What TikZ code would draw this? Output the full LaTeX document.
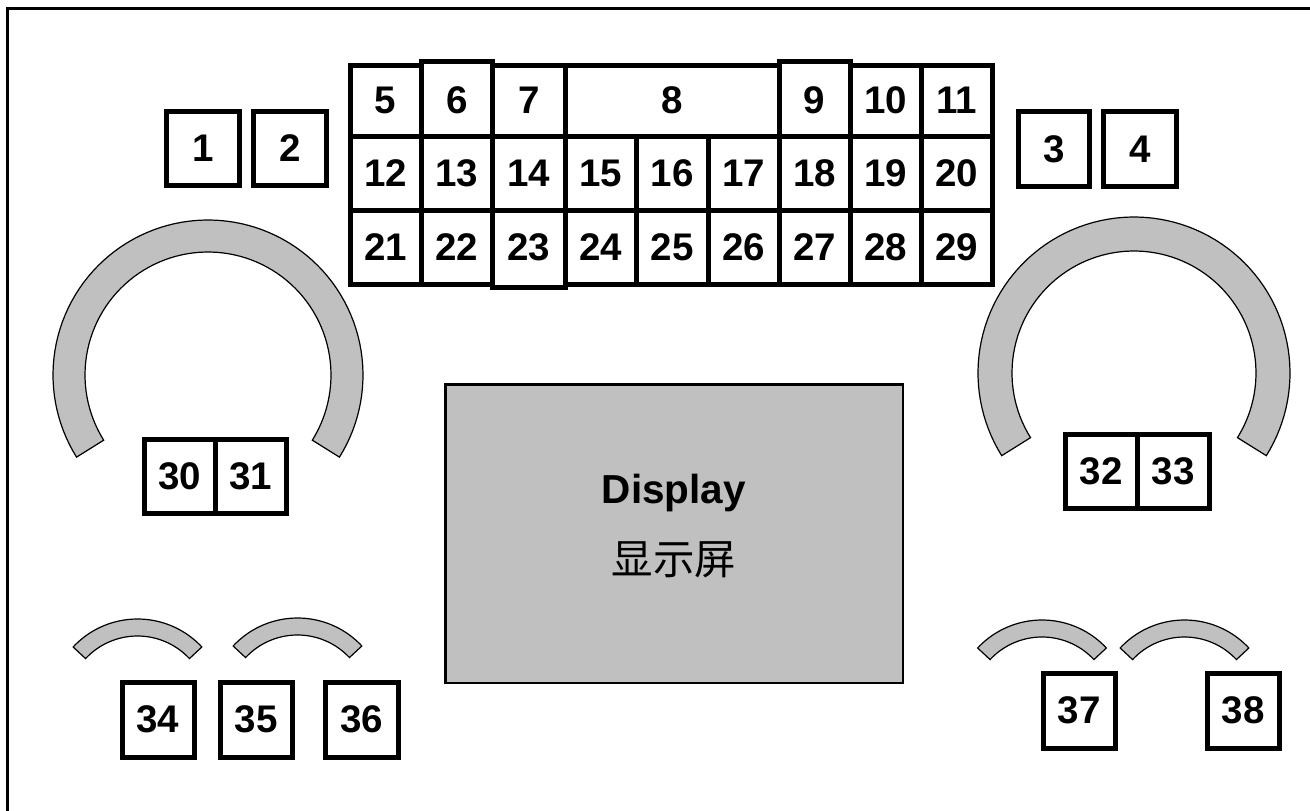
\documentclass[tikz,border=0pt]{standalone}
\usepackage{fontspec}
\setmainfont{Liberation Sans}
\newfontfamily\cjk{Noto Sans CJK SC}
\definecolor{panelgray}{RGB}{192,192,192}
\newcommand\numfont{\fontsize{38.5}{42}\selectfont\bfseries}
\begin{document}
\begin{tikzpicture}[x=1pt,y=-1pt,
  cell/.style={draw=black, line width=5pt, fill=white, inner sep=0pt, outer sep=0pt,
    font=\numfont, minimum width=#1},
  cell/.default=71pt,
  hA/.style={minimum height=71pt},
  hB/.style={minimum height=74pt},
  hC/.style={minimum height=75pt},
  ring/.style={draw=black, line width=1.2pt, fill=panelgray},
  screen/.style={draw=black, line width=2.5pt, fill=panelgray, inner sep=0pt},
  frameline/.style={draw=black, line width=3pt}]
\useasboundingbox (0,0) rectangle (1310,811);
\fill[white] (0,0) rectangle (1310,811);
% frame
\coordinate (fBL) at (7.5,811);
\coordinate (fTL) at (7.5,8);
\coordinate (fTR) at (1310,8);
\draw[frameline] (fBL) -- (fTL) -- (fTR);

% big rings
\draw[ring] plot[domain=148:392,samples=90] ({208+155*cos(\x)},{375+155*sin(\x)})
  -- plot[domain=392:148,samples=90] ({208+123*cos(\x)},{375+123*sin(\x)}) -- cycle;
\draw[ring] plot[domain=148:392,samples=90] ({1134+156*cos(\x)},{373+156*sin(\x)})
  -- plot[domain=392:148,samples=90] ({1134+122*cos(\x)},{373+122*sin(\x)}) -- cycle;

% small arcs
\foreach \cx/\cy in {137.5/707, 297.5/706, 1042/708, 1184.5/708}{
  \draw[ring] plot[domain=223:317,samples=40] ({\cx+88*cos(\x)},{\cy+88*sin(\x)})
    -- plot[domain=317:223,samples=40] ({\cx+71*cos(\x)},{\cy+71*sin(\x)}) -- cycle;
}

% display
\node[screen, minimum width=457.5pt, minimum height=298.5pt] (disp) at (674.25,533.75) {};
\node[anchor=base, font=\fontsize{40.5}{44}\selectfont\bfseries] (dispen) at (674,503) {Display};
\node[font=\cjk\fontsize{41.5}{44}\selectfont] (dispcn) at (674,560) {显示屏};

% top single boxes
\node[cell=73pt, hB] (b1) at (203,148.5) {1};
\node[cell=73pt, hB] (b2) at (290,148.5) {2};
\node[cell=71pt, hC] (b3) at (1054,149) {3};
\node[cell=73pt, hC] (b4) at (1140,149) {4};

% grid row 1
\node[cell=71pt, hA] (b5) at (385.5,100.5) {5};
\node[cell=72.5pt, hA] (b7) at (528.75,100.5) {7};
\node[cell=214pt, hA] (b8) at (672,100.5) {8};
\node[cell=71pt, hA] (b10) at (885.5,100.5) {10};
\node[cell=71pt, hA] (b11) at (956.5,100.5) {11};
\node[cell=71.5pt, hC, label={[font=\numfont, inner sep=0pt, yshift=-2pt]center:6}] (b6) at (456.75,98.5) {};
\node[cell=71pt, hC, label={[font=\numfont, inner sep=0pt, yshift=-2pt]center:9}] (b9) at (814.5,98.5) {};
% grid row 2
\node[cell=71pt, hB] (b12) at (385.5,173) {12};
\node[cell=71.5pt, hB] (b13) at (456.75,173) {13};
\node[cell=72.5pt, hB] (b14) at (528.75,173) {14};
\node[cell=71pt, hB] (b15) at (600.5,173) {15};
\node[cell=72pt, hB] (b16) at (672,173) {16};
\node[cell=71pt, hB] (b17) at (743.5,173) {17};
\node[cell=71pt, hB] (b18) at (814.5,173) {18};
\node[cell=71pt, hB] (b19) at (885.5,173) {19};
\node[cell=71pt, hB] (b20) at (956.5,173) {20};
% grid row 3
\node[cell=71pt, hB] (b21) at (385.5,247) {21};
\node[cell=71.5pt, hB] (b22) at (456.75,247) {22};
\node[cell=71pt, hB] (b24) at (600.5,247) {24};
\node[cell=72pt, hB] (b25) at (672,247) {25};
\node[cell=71pt, hB] (b26) at (743.5,247) {26};
\node[cell=71pt, hB] (b27) at (814.5,247) {27};
\node[cell=71pt, hB] (b28) at (885.5,247) {28};
\node[cell=71pt, hB] (b29) at (956.5,247) {29};
\node[cell=72.5pt, minimum height=77pt, label={[font=\numfont, inner sep=0pt, yshift=1.5pt]center:23}] (b23) at (528.75,248.5) {};

% knob boxes
\node[cell=71.5pt, hB] (b30) at (179.75,476) {30};
\node[cell=70.5pt, hB] (b31) at (250.75,476) {31};
\node[cell=72pt, hB] (b32) at (1101,471) {32};
\node[cell=72pt, hB] (b33) at (1173,471) {33};

% bottom boxes
\node[cell=72pt, hC] (b34) at (158,719.5) {34};
\node[cell=71.5pt, hC] (b35) at (256.25,719.5) {35};
\node[cell=72.5pt, hC] (b36) at (361.75,719.5) {36};
\node[cell=72pt, hC] (b37) at (1079,710.5) {37};
\node[cell=72pt, hC] (b38) at (1243,710.5) {38};
\end{tikzpicture}
\end{document}
